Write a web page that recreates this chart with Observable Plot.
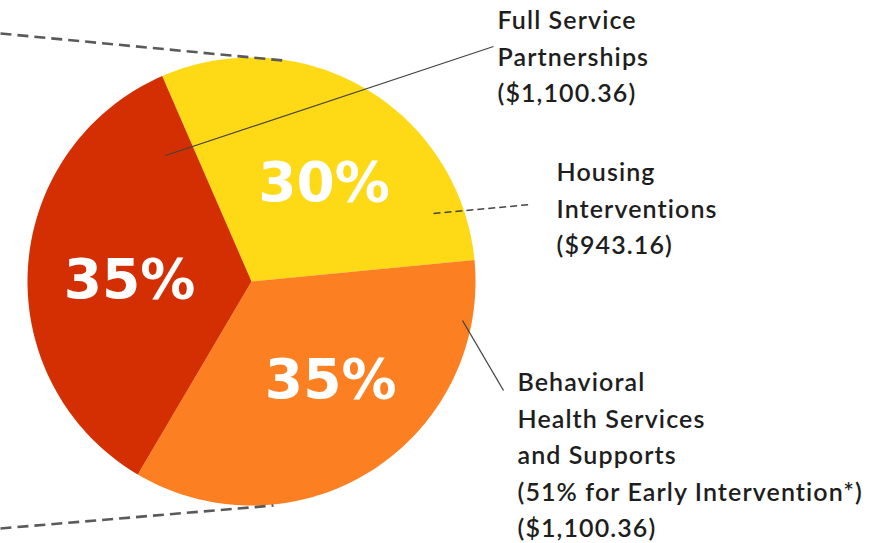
<!DOCTYPE html>
<html>
<head>
<meta charset="utf-8">
<script src="https://cdn.jsdelivr.net/npm/d3@7"></script>
<script src="https://cdn.jsdelivr.net/npm/@observablehq/plot@0.6"></script>
<style>
  html, body { margin: 0; padding: 0; background: #fff; }
  #chart svg { display: block; }
</style>
</head>
<body>
<div id="chart"></div>
<script>
// ---- data (clockwise from the top-left boundary) ----
const slices   = ["Housing Interventions", "Behavioral Health Services and Supports", "Full Service Partnerships"];
const percents = [30, 35, 35];
const colors   = ["#FDD916", "#FC7F22", "#D32F02"];
const labelLines = [
  ["Housing", "Interventions", "($943.16)"],
  ["Behavioral", "Health Services", "and Supports", "(51% for Early Intervention*)", "($1,100.36)"],
  ["Full Service", "Partnerships", "($1,100.36)"]
];

// ---- layout ----
const W = 892, H = 543;
const cx = 251, cy = 281, R = 224;
const startDeg = -23.5;
const pctNudge = [[10, 8], [13, -5], [1, 6]];
const toXY = (a, r) => [cx + r * Math.sin(a), cy - r * Math.cos(a)];

const pie = d3.pie().sort(null).value(d => d.pct)
  .startAngle(startDeg * Math.PI / 180)
  .endAngle(startDeg * Math.PI / 180 + 2 * Math.PI);
const arcs = pie(slices.map((s, i) => ({slice: s, pct: percents[i]})));

// polygon vertices for each slice
const poly = [];
for (const a of arcs) {
  poly.push({slice: a.data.slice, x: cx, y: cy});
  const n = 90;
  for (let k = 0; k <= n; k++) {
    const t = a.startAngle + (a.endAngle - a.startAngle) * k / n;
    const [x, y] = toXY(t, R);
    poly.push({slice: a.data.slice, x, y});
  }
}

// percentage labels at mid angle
const pctLabels = arcs.map((a, i) => {
  const mid = (a.startAngle + a.endAngle) / 2;
  const [x, y] = toXY(mid, 0.55 * R);
  return {x: x + pctNudge[i][0], y: y + pctNudge[i][1], text: percents[i] + "%"};
});

// annotation placement (layout)
const annot = [
  {x: 556, y: 155, text: labelLines[0].join("\n")},
  {x: 517, y: 365, text: labelLines[1].join("\n")},
  {x: 497, y: 3,   text: labelLines[2].join("\n")}
];
const solidLeaders = [
  {x1: 165, y1: 155, x2: 493, y2: 46},
  {x1: 462, y1: 320, x2: 503, y2: 390}
];
const thinDashed = [{x1: 433, y1: 213, x2: 530, y2: 204}];
const zoomLines = [
  {x1: 0, y1: 33, x2: 283, y2: 60},
  {x1: 0, y1: 528, x2: 273, y2: 505}
];

const chart = Plot.plot({
  width: W, height: H,
  margin: 0,
  x: {domain: [0, W], range: [0, W], axis: null},
  y: {domain: [0, H], range: [0, H], axis: null},
  color: {domain: slices, range: colors},
  style: {background: "#fff"},
  marks: [
    Plot.line(poly, {x: "x", y: "y", z: "slice", fill: "slice", stroke: null, curve: "linear-closed"}),
    Plot.link(zoomLines, {x1: "x1", y1: "y1", x2: "x2", y2: "y2", stroke: "#5a5a5a", strokeWidth: 2.6, strokeDasharray: "11,6"}),
    Plot.link(solidLeaders, {x1: "x1", y1: "y1", x2: "x2", y2: "y2", stroke: "#444", strokeWidth: 1.3}),
    Plot.link(thinDashed, {x1: "x1", y1: "y1", x2: "x2", y2: "y2", stroke: "#444", strokeWidth: 1.5, strokeDasharray: "7,4"}),
    Plot.text(pctLabels, {x: "x", y: "y", text: "text", fill: "#fff", fontSize: 55, fontWeight: "bold",
      fontFamily: "DejaVu Sans", textAnchor: "middle", lineAnchor: "middle"}),
    Plot.text(annot, {x: "x", y: "y", text: "text", fill: "#1e1e1e", fontSize: 25, fontWeight: 600,
      fontFamily: "Lato", textAnchor: "start", lineAnchor: "top", lineHeight: 1.46,
      className: "annot"})
  ]
});
chart.querySelectorAll("g.annot, .annot").forEach(g => { g.style.letterSpacing = "1.1px"; });
document.getElementById("chart").appendChild(chart);
</script>
</body>
</html>
